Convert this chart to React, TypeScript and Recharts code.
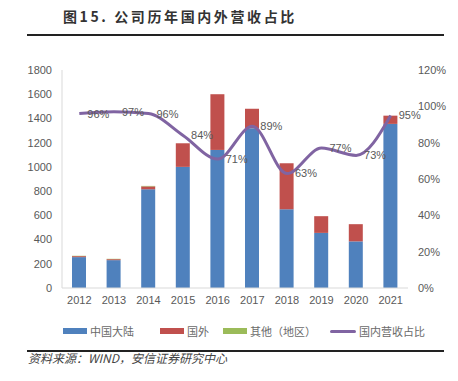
import React from 'react';
import { ComposedChart, Bar, Line, XAxis, YAxis, LabelList } from 'recharts';

const years = ['2012', '2013', '2014', '2015', '2016', '2017', '2018', '2019', '2020', '2021'];
const mainland = [255, 230, 815, 1000, 1140, 1320, 650, 455, 385, 1355];
const overseas = [8, 8, 24, 195, 460, 160, 380, 138, 142, 68];
const others = [3, 3, 4, 0, 0, 0, 0, 0, 0, 0];
const domesticShare = [96, 97, 96, 84, 71, 89, 63, 77, 73, 95];

const leftTicks = [0, 200, 400, 600, 800, 1000, 1200, 1400, 1600, 1800];
const rightTicks = [0, 20, 40, 60, 80, 100, 120];

const data = years.map((y, i) => ({
  year: y,
  mainland: mainland[i],
  overseas: overseas[i],
  others: others[i],
  share: domesticShare[i],
}));

const tickStyle = { fontSize: 11, fill: '#595959', fontFamily: 'Liberation Sans, Arial, sans-serif' };
const cjk = '"Noto Sans CJK SC", sans-serif';

function LegendItem({ color, label, line }: { color: string; label: string; line?: boolean }) {
  return (
    <div style={{ display: 'flex', alignItems: 'center', marginRight: 14 }}>
      <div style={{ width: line ? 26 : 24, height: line ? 3 : 6, background: color, borderRadius: line ? 2 : 0, marginRight: 3 }} />
      <span style={{ fontSize: 11, color: '#6a6a6a', fontFamily: cjk }}>{label}</span>
    </div>
  );
}

export default function App() {
  return (
    <div style={{ position: 'absolute', left: 0, top: 0, width: 458, height: 381, background: '#fff', overflow: 'hidden' }}>
      <div style={{ position: 'absolute', left: 63, top: 6, fontSize: 14, fontWeight: 'bold', color: '#333', fontFamily: cjk, letterSpacing: 2.6, whiteSpace: 'nowrap' }}>
        图15. 公司历年国内外营收占比
      </div>
      <div style={{ position: 'absolute', left: 27, top: 34, width: 417, height: 2, background: '#222' }} />

      <div style={{ position: 'absolute', left: 0, top: 0 }}>
        <ComposedChart width={458} height={320} data={data} margin={{ top: 70, right: 0, left: 20, bottom: 2 }} barCategoryGap="30%">
          <XAxis
            dataKey="year"
            axisLine={{ stroke: '#d9d9d9' }}
            tickLine={false}
            tick={tickStyle}
            tickMargin={2}
            height={30}
          />
          <YAxis
            yAxisId="left"
            domain={[0, 1800]}
            ticks={leftTicks}
            axisLine={{ stroke: '#d9d9d9' }}
            tickLine={false}
            tick={tickStyle}
            tickMargin={4}
            width={42}
            interval={0}
          />
          <YAxis
            yAxisId="right"
            orientation="right"
            domain={[0, 120]}
            ticks={rightTicks}
            axisLine={false}
            tickLine={false}
            tick={tickStyle}
            tickMargin={4}
            tickFormatter={(v) => `${v}%`}
            width={50}
            interval={0}
          />
          <Bar yAxisId="left" dataKey="mainland" stackId="a" fill="#4F81BD" barSize={14} isAnimationActive={false} />
          <Bar yAxisId="left" dataKey="overseas" stackId="a" fill="#C0504D" barSize={14} isAnimationActive={false} />
          <Bar yAxisId="left" dataKey="others" stackId="a" fill="#9BBB59" barSize={14} isAnimationActive={false} />
          <Line
            yAxisId="right"
            dataKey="share"
            type="monotone"
            stroke="#8064A2"
            strokeWidth={3}
            dot={false}
            isAnimationActive={false}
          >
            <LabelList
              dataKey="share"
              position="right"
              offset={8}
              formatter={(v: number) => `${v}%`}
              style={{ fontSize: 11, fill: '#595959', fontFamily: 'Liberation Sans, Arial, sans-serif' }}
            />
          </Line>
        </ComposedChart>
      </div>

      <div style={{ position: 'absolute', left: 63, top: 323, display: 'flex', alignItems: 'center' }}>
        <LegendItem color="#4F81BD" label="中国大陆" />
        <div style={{ width: 12 }} />
        <LegendItem color="#C0504D" label="国外" />
        <LegendItem color="#9BBB59" label="其他（地区）" />
        <LegendItem color="#8064A2" label="国内营收占比" line />
      </div>

      <div style={{ position: 'absolute', left: 27, top: 350, width: 417, height: 1.5, background: '#222' }} />
      <div style={{ position: 'absolute', left: 28, top: 349, fontSize: 12, fontStyle: 'italic', color: '#444', fontFamily: cjk, whiteSpace: 'nowrap' }}>
        资料来源：WIND，安信证券研究中心
      </div>
    </div>
  );
}
